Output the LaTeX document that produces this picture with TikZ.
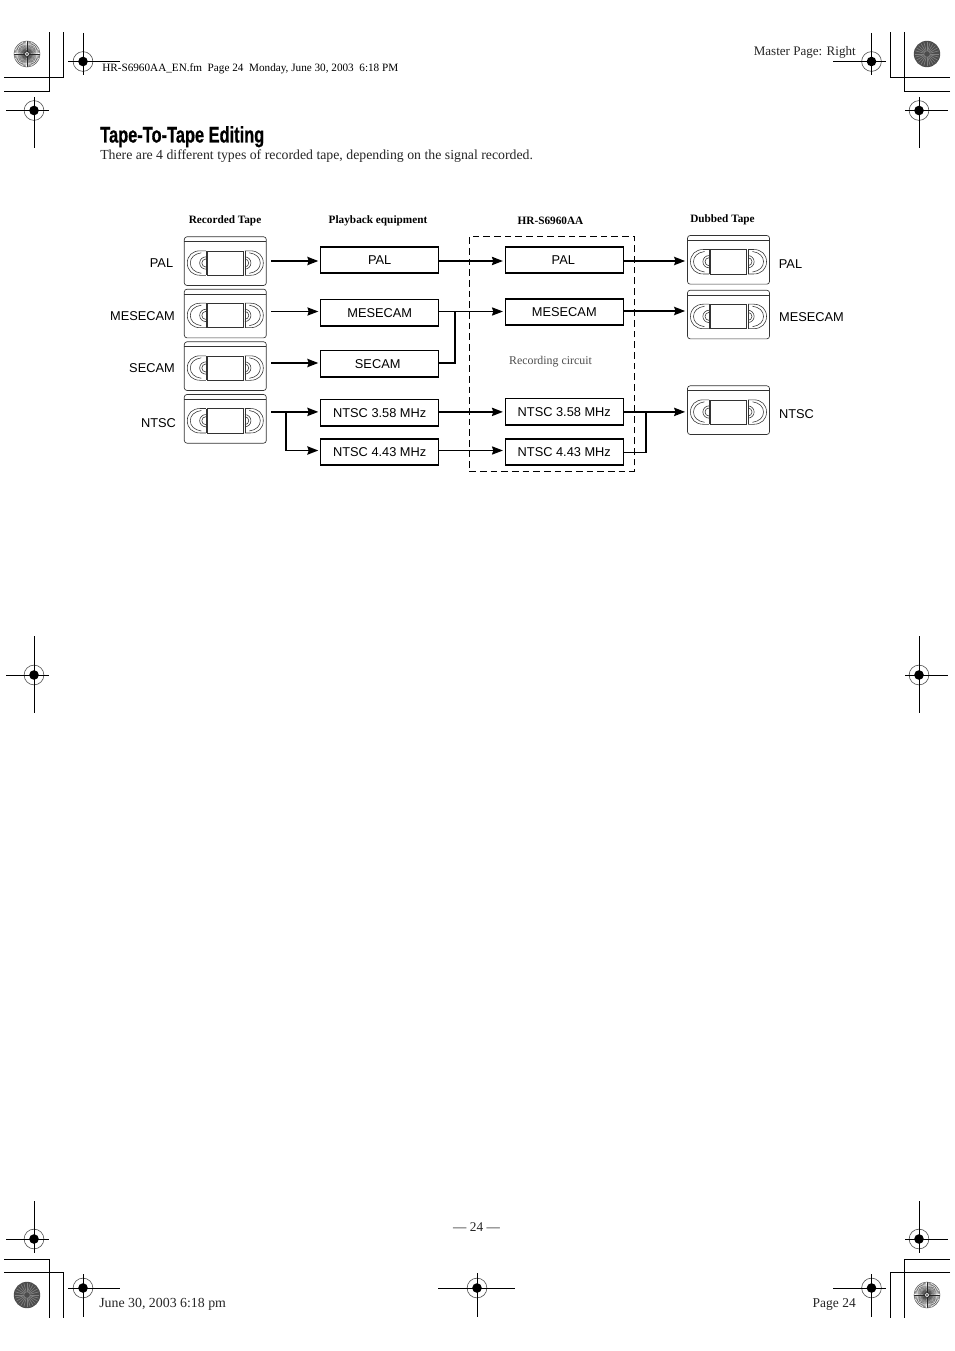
\documentclass[tikz,border=0pt]{standalone}
\usepackage{fontspec}
\usepackage{graphicx}
\usetikzlibrary{arrows.meta,calc}
\setmainfont{Liberation Serif}
\newfontfamily\arialf{Liberation Sans}
\newfontfamily\titlef[FakeBold=0.8]{Liberation Sans Bold}
\tikzset{
  tapebox/.style={draw=black!80,line width=.5pt,rounded corners=2pt,minimum width=61.5pt,minimum height=36.5pt,inner sep=0,outer sep=0,anchor=north west},
  tapeline/.style={draw=black!80,line width=.42pt},
  sigbox/.style={draw=black,line width=1.1pt,minimum width=88.5pt,minimum height=19.8pt,inner sep=0,outer sep=0,font=\arialf\fontsize{9.6}{11}\selectfont},
  fmt/.style={font=\arialf\fontsize{9.6}{11}\selectfont,inner sep=0},
  head/.style={font=\bfseries\fontsize{8.45}{10}\selectfont,inner sep=0},
  wire/.style={line width=1.35pt,black},
  wire thin/.style={line width=.7pt,black},
  sigarrow/.style={-{Stealth[length=8.2pt,width=6.2pt,inset=1pt]},shorten >=1.8pt},
  gapstart/.style={shorten <=3.6pt},
  mk/.style={line width=.65pt,black},
  crop/.style={line width=.65pt,black},
  pagetext/.style={inner sep=0,anchor=base west,black!85},
}
\newcommand\reelside{%
  \draw[tapeline] (21.5,14) -- (21.5,38.5);
  \draw[tapeline] (21.5,14) -- (16,14) .. controls (8,14) and (3,19) .. (3,26.2) .. controls (3,33.5) and (8,38.5) .. (16,38.5) -- (21.5,38.5);
  \draw[tapeline] (17,16) .. controls (10,17) and (6,21) .. (6,26.2) .. controls (6,31.5) and (10,35.5) .. (17,36.5);
  \begin{scope}
    \clip (0,0) rectangle (21.5,48.5);
    \draw[tapeline] (21.5,26.2) circle[radius=4.6pt];
    \draw[tapeline] (21.5,26.2) circle[radius=3pt];
  \end{scope}}
\newcommand\vcr[3]{%
  \node[tapebox] (#1) at (#2,#3) {};
  \begin{scope}[shift={(#2,#3)}]
    \draw[tapeline] (0,4.7) -- (82,4.7);
    \draw[tapeline] (23,14) rectangle (58.5,38.5);
    \reelside
    \begin{scope}[shift={(82,0)},xscale=-1]\reelside\end{scope}
  \end{scope}}
\newcommand\regmark[6]{% x y left right top bottom
  \fill[black] (#1,#2) circle[radius=3.6pt];
  \draw[line width=.45pt,black!70] (#1,#2) circle[radius=7.4pt];
  \draw[mk] (#3,#2) -- (#4,#2);
  \draw[mk] (#1,#5) -- (#1,#6);}
\newcommand\burstlight[2]{%
  \fill[white] (#1,#2) circle[radius=9.9pt];
  \foreach \a in {0,6,...,354}{\draw[line width=.22pt,black!85] ($(#1,#2)+(\a:1.5pt)$) -- ($(#1,#2)+(\a:9.8pt)$);}
  \draw[line width=.3pt,black!60] (#1,#2) circle[radius=9.8pt];
  \fill[black!70] (#1,#2) circle[radius=.9pt];}
\newcommand\burstdark[2]{%
  \fill[black!70] (#1,#2) circle[radius=9.9pt];
  \foreach \a in {0,15,...,345}{\draw[line width=.5pt,black!50] ($(#1,#2)+(\a:2pt)$) -- ($(#1,#2)+(\a:9pt)$);}}
\begin{document}
\begin{tikzpicture}[x=.75pt,y=-.75pt]
\useasboundingbox (0,0) rectangle (954,1351);
\fill[white] (0,0) rectangle (954,1351);
% crop marks
\draw[crop] (4,77) -- (63,77) -- (63,32);
\draw[crop] (4,91) -- (49,91) -- (49,32);
\draw[crop] (950,77) -- (890,77) -- (890,32);
\draw[crop] (950,91) -- (904,91) -- (904,32);
\draw[crop] (4,1259) -- (49,1259) -- (49,1318);
\draw[crop] (4,1272) -- (63,1272) -- (63,1318);
\draw[crop] (950,1259) -- (904,1259) -- (904,1318);
\draw[crop] (950,1272) -- (890,1272) -- (890,1318);
\burstlight{27}{54}
\burstdark{927}{54}
\burstdark{27}{1295}
\burstlight{927}{1295}
\regmark{83}{61.5}{68}{120}{33}{75}
\regmark{871.5}{61.5}{833}{886}{33}{75}
\regmark{34}{110.5}{6}{49}{97}{148}
\regmark{919}{110.5}{905}{948}{97}{148}
\regmark{34}{675}{6}{49}{636}{713}
\regmark{919}{675}{905}{948}{636}{713}
\regmark{34}{1239}{6}{49}{1201}{1253}
\regmark{919}{1239}{905}{948}{1201}{1253}
\regmark{83}{1288}{68}{120}{1274}{1317}
\regmark{477}{1288}{438}{515}{1273}{1317}
\regmark{871.5}{1288}{833}{886}{1274}{1317}
% page text
\node[pagetext,anchor=base east,font=\fontsize{9.8}{11}\selectfont] (mp) at (856,55.5) {Master Page: Right};
\node[pagetext,font=\fontsize{8.4}{10}\selectfont,black] (fm) at (102,72) {HR-S6960AA\_EN.fm\ \ Page 24\ \ Monday, June 30, 2003\ \ 6:18 PM};
\node[inner sep=0,anchor=base west,black] (title) at (100,142.5) {\titlef\scalebox{.75}[1.03]{\fontsize{16.4}{18}\selectfont Tape-To-Tape Editing}};
\node[pagetext,font=\fontsize{10.35}{12}\selectfont] (intro) at (100,160) {There are 4 different types of recorded tape, depending on the signal recorded.};
\node[pagetext,anchor=base,font=\fontsize{10}{11}\selectfont] (pg) at (476.5,1231) {--- 24 ---};
\node[pagetext,font=\fontsize{10.4}{11}\selectfont] (date) at (99,1307.5) {June 30, 2003 6:18 pm};
\node[pagetext,anchor=base east,font=\fontsize{10.1}{11}\selectfont] (pnum) at (856,1307.5) {Page 24};
% headings
\node[head] (h1) at (225,220.5) {Recorded Tape};
\node[head] (h2) at (378,220.5) {Playback equipment};
\node[head] (h3) at (550.5,221) {HR-S6960AA};
\node[head] (h4) at (722.5,219.5) {Dubbed Tape};
% recording circuit
\node[draw=black,line width=.85pt,dash pattern=on 5pt off 3pt,inner sep=0,outer sep=0,anchor=north west,minimum width=123.7pt,minimum height=176pt] (rc) at (469.3,236.5) {};
\node[inner sep=0,font=\fontsize{8.9}{10}\selectfont,black!70] (rclabel) at (550.5,361.5) {Recording circuit};
% tapes
\vcr{t1}{184.3}{236.8}
\vcr{t2}{184.3}{289.2}
\vcr{t3}{184.3}{341.8}
\vcr{t4}{184.3}{394.5}
\vcr{d1}{687.5}{235.5}
\vcr{d2}{687.5}{290.2}
\vcr{d3}{687.5}{385.8}
% format labels
\node[fmt] (l1) at (161.5,263.5) {PAL};
\node[fmt] (l2) at (142.5,316) {MESECAM};
\node[fmt] (l3) at (152,368) {SECAM};
\node[fmt] (l4) at (158.5,423) {NTSC};
\node[fmt] (r1) at (790.5,264.5) {PAL};
\node[fmt] (r2) at (811.5,317.5) {MESECAM};
\node[fmt] (r3) at (796.5,414.5) {NTSC};
% playback boxes
\node[sigbox] (p1) at (379.7,260) {PAL};
\node[sigbox] (p2) at (379.7,312.6) {MESECAM};
\node[sigbox] (p3) at (379.7,363.6) {\hspace*{-3pt}SECAM};
\node[sigbox] (p4) at (379.7,412.8) {NTSC 3.58 MHz};
\node[sigbox] (p5) at (379.7,452) {NTSC 4.43 MHz};
% recording boxes
\node[sigbox] (c1) at (564.3,260) {\hspace*{-1.5pt}PAL};
\node[sigbox] (c2) at (564.3,312) {MESECAM};
\node[sigbox] (c3) at (564.3,411.8) {NTSC 3.58 MHz};
\node[sigbox] (c4) at (564.3,452) {NTSC 4.43 MHz};
% row levels and junctions
\coordinate (ya) at (0,261);
\coordinate (yb) at (0,311.5);
\coordinate (yc) at (0,363);
\coordinate (yd) at (0,411.9);
\coordinate (ye) at (0,450.5);
\coordinate (yf) at (0,311);
\coordinate (yg) at (0,452.5);
\coordinate (jn) at (286,411.9);
\coordinate (js) at (455,311.5);
\coordinate (jd) at (646,411.9);
% connectors
\draw[wire,sigarrow,gapstart] (t1.east |- ya) -- (p1.west |- ya);
\draw[wire thin,sigarrow,gapstart] (t2.east |- yb) -- (p2.west |- yb);
\draw[wire,sigarrow,gapstart] (t3.east |- yc) -- (p3.west |- yc);
\draw[wire,sigarrow,gapstart] (t4.east |- yd) -- (p4.west |- yd);
\draw[wire,sigarrow] (jn) |- (p5.west |- ye);
\draw[wire,sigarrow] (p1.east |- ya) -- (c1.west |- ya);
\draw[wire thin,sigarrow] (p2.east |- yb) -- (c2.west |- yb);
\draw[wire] (p3.east |- yc) -| (js);
\draw[wire,sigarrow] (p4.east |- yd) -- (c3.west |- yd);
\draw[wire thin,sigarrow] (p5.east |- ye) -- (c4.west |- ye);
\draw[wire,sigarrow] (c1.east |- ya) -- (d1.west |- ya);
\draw[wire,sigarrow] (c2.east |- yf) -- (d2.west |- yf);
\draw[wire,sigarrow] (c3.east |- yd) -- (d3.west |- yd);
\draw[wire] (c4.east |- yg) -| (jd);
\end{tikzpicture}
\end{document}
